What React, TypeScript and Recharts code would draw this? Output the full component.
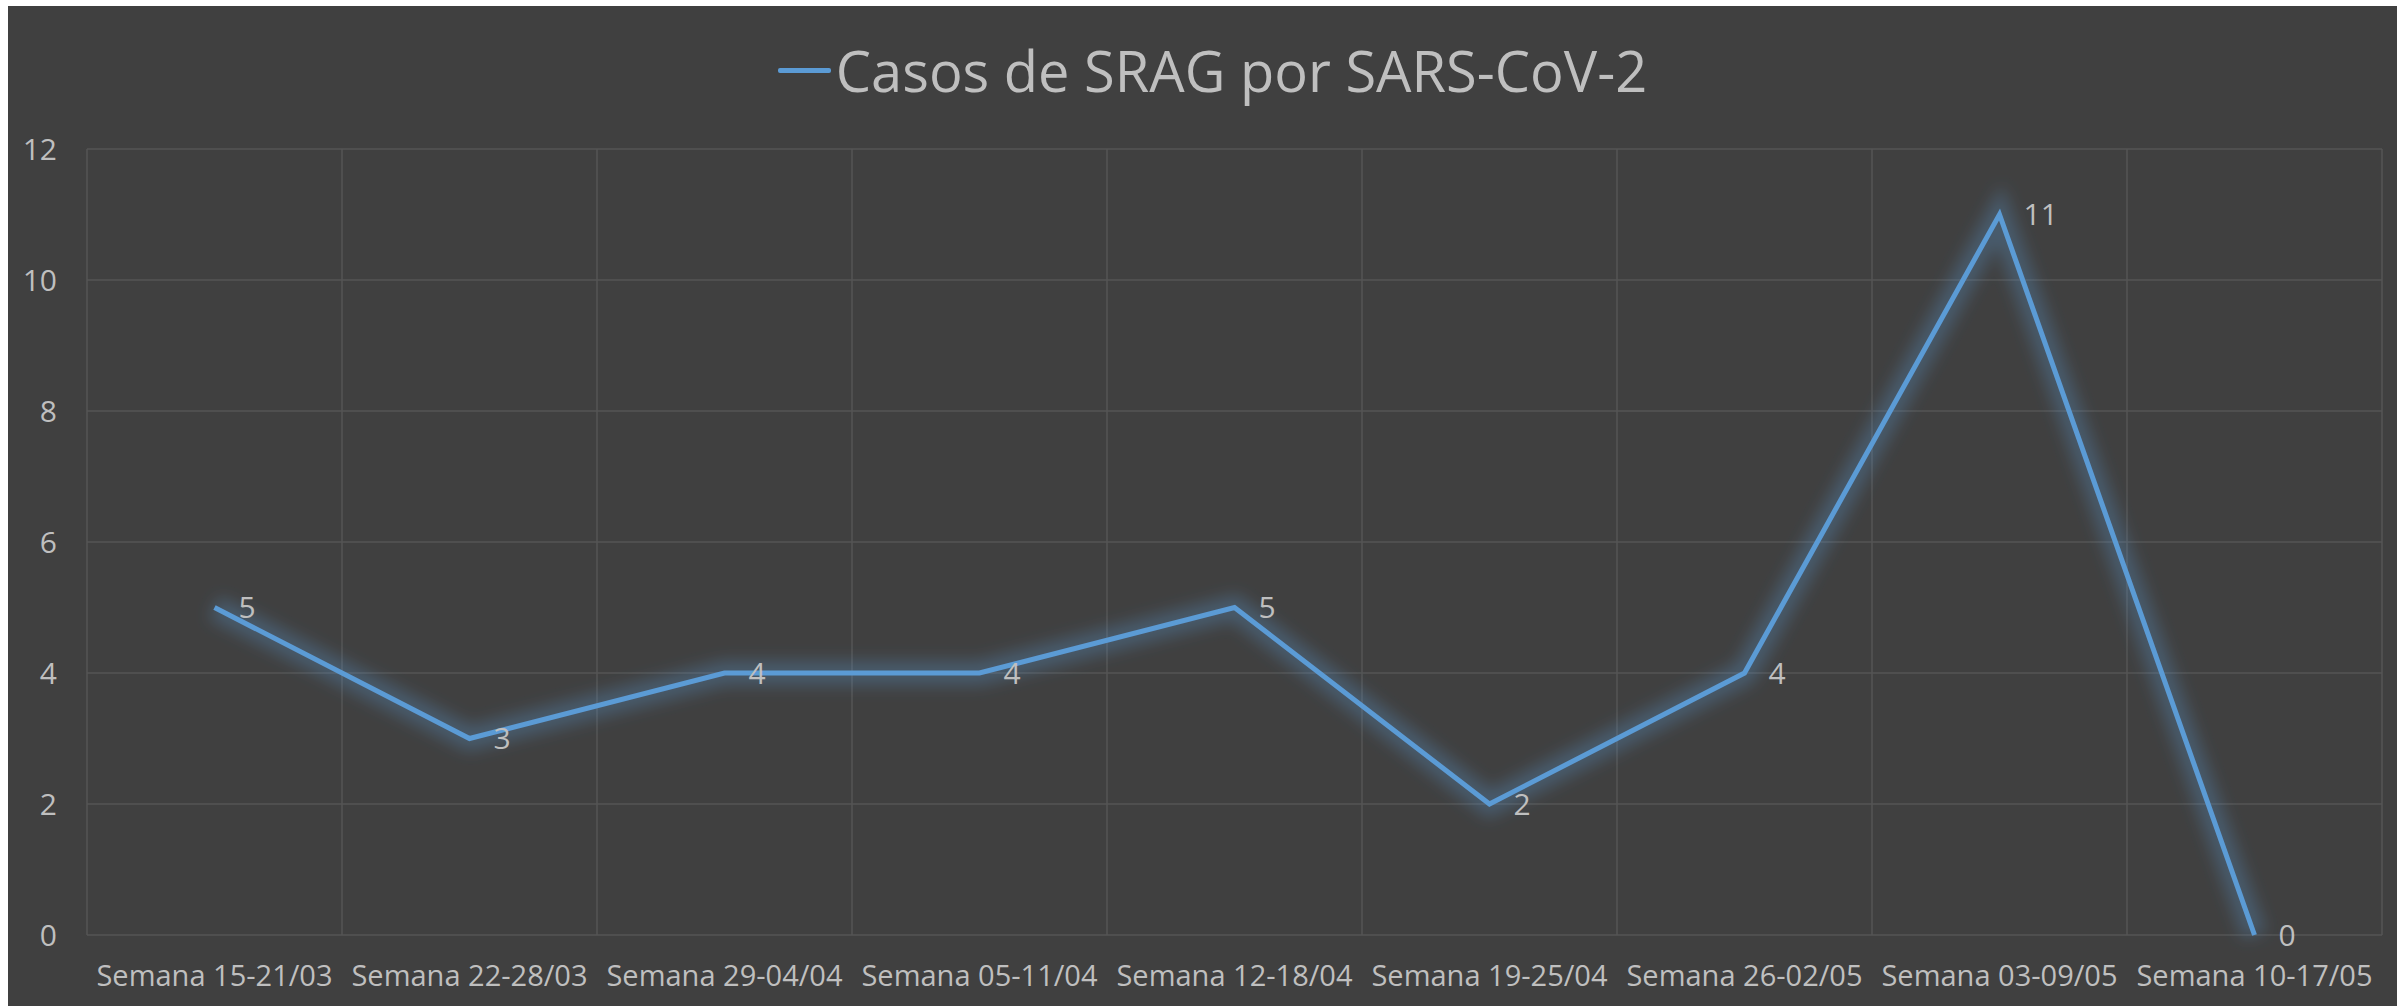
import React from "react";
import {
  LineChart,
  Line,
  XAxis,
  YAxis,
  CartesianGrid,
  LabelList,
} from "recharts";

const weeks = [
  "Semana 15-21/03",
  "Semana 22-28/03",
  "Semana 29-04/04",
  "Semana 05-11/04",
  "Semana 12-18/04",
  "Semana 19-25/04",
  "Semana 26-02/05",
  "Semana 03-09/05",
  "Semana 10-17/05",
];
const cases = [5, 3, 4, 4, 5, 2, 4, 11, 0];
const yTicks = [0, 2, 4, 6, 8, 10, 12];
const seriesName = "Casos de SRAG por SARS-CoV-2";

const data = weeks.map((week, i) => ({ week, cases: cases[i] }));

const BG = "#404040";
const LINE = "#5B9BD5";
const TEXT = "#BFBFBF";
const GRID = "#555555";

export default function App() {
  return (
    <div
      style={{
        position: "absolute",
        left: 8,
        top: 6,
        width: 2389,
        height: 1000,
        background: BG,
        fontFamily: "'Open Sans', sans-serif",
      }}
    >
      {/* legend sits where the chart title would be */}
      <div
        style={{
          position: "absolute",
          top: 25,
          left: 0,
          width: "100%",
          display: "flex",
          justifyContent: "center",
          alignItems: "center",
          paddingLeft: 20,
          boxSizing: "border-box",
        }}
      >
        <span
          style={{
            display: "inline-block",
            width: 53,
            height: 5,
            background: LINE,
            borderRadius: 2,
            marginRight: 5,
          }}
        />
        <span style={{ color: TEXT, fontSize: 56, lineHeight: "78px" }}>
          {seriesName}
        </span>
      </div>
      <LineChart
        width={2389}
        height={1000}
        data={data}
        margin={{ top: 143, right: 15, bottom: 0, left: 0 }}
      >
        <defs>
          <filter id="glow" x="-20%" y="-20%" width="140%" height="140%">
            <feGaussianBlur stdDeviation="8" />
          </filter>
        </defs>
        <CartesianGrid
          stroke={GRID}
          strokeWidth={1.5}
          verticalCoordinatesGenerator={({ offset }: any) =>
            [...weeks, ""].map(
              (_, i) => offset.left + (i * offset.width) / weeks.length
            )
          }
        />
        <XAxis
          dataKey="week"
          scale="band"
          interval={0}
          axisLine={false}
          tickLine={false}
          tickSize={0}
          tickMargin={30}
          height={71}
          tick={{ fill: TEXT, fontSize: 29 }}
        />
        <YAxis
          domain={[0, 12]}
          ticks={yTicks}
          axisLine={false}
          tickLine={false}
          tickSize={0}
          tickMargin={30}
          width={79}
          tick={{ fill: TEXT, fontSize: 30 }}
        />
        <Line
          dataKey="cases"
          type="linear"
          stroke={LINE}
          strokeWidth={24}
          strokeOpacity={0.3}
          filter="url(#glow)"
          dot={false}
          activeDot={false}
          legendType="none"
          isAnimationActive={false}
        />
        <Line
          dataKey="cases"
          type="linear"
          stroke={LINE}
          strokeWidth={5}
          dot={false}
          activeDot={false}
          isAnimationActive={false}
        >
          <LabelList
            dataKey="cases"
            position="right"
            offset={24}
            fill={TEXT}
            fontSize={30}
          />
        </Line>
      </LineChart>
    </div>
  );
}
